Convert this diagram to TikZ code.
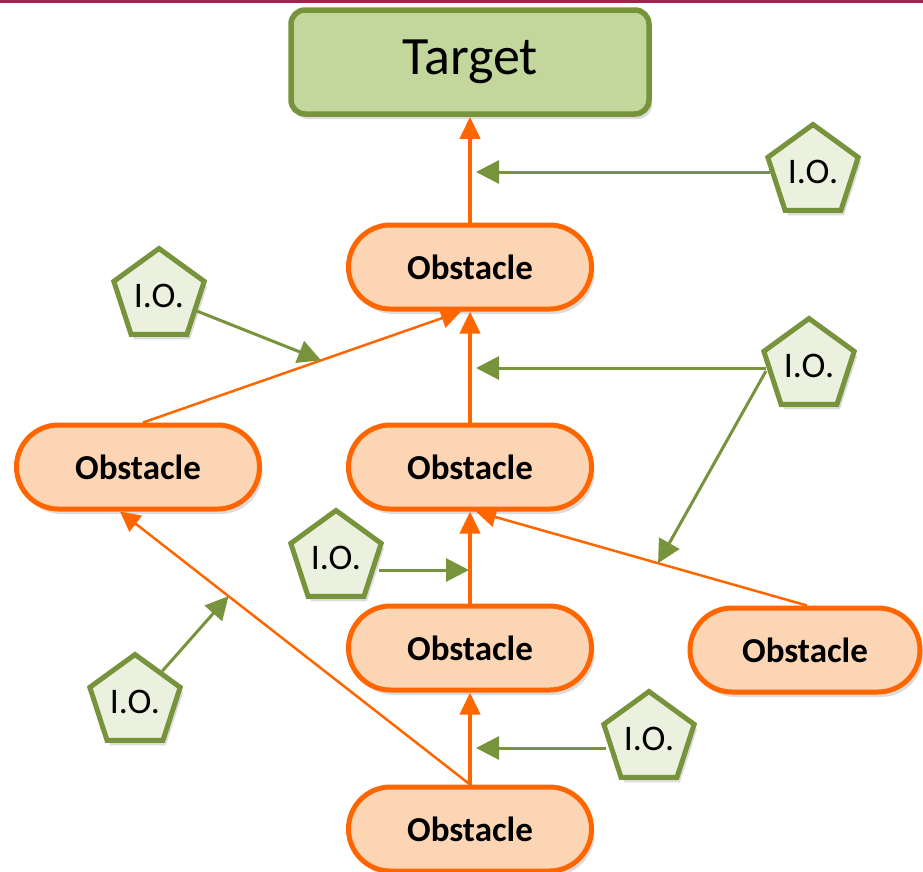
\documentclass[tikz,border=0pt]{standalone}
\usepackage{fontspec}
\setmainfont{Carlito}
\usetikzlibrary{shapes.geometric,arrows.meta,shadows,calc}
\definecolor{ogreen}{HTML}{77933C}
\definecolor{tfill}{HTML}{C3D69B}
\definecolor{pfill}{HTML}{EBF1DE}
\definecolor{oline}{HTML}{FF6600}
\definecolor{ofill}{HTML}{FCD5B5}
\definecolor{crim}{HTML}{A3234C}
\tikzset{
  shad/.style={drop shadow={opacity=0.28,shadow xshift=3pt,shadow yshift=-5pt}},
  targetbox/.style={draw=ogreen,fill=tfill,line width=5.5pt,rounded corners=14pt,
    minimum width=358pt,minimum height=104pt,inner sep=0pt,shad,
    font=\fontsize{54}{60}\selectfont},
  obst/.style={draw=oline,fill=ofill,line width=5pt,rounded corners=42pt,
    minimum width=243pt,minimum height=84pt,inner sep=0pt,shad,
    font=\fontsize{35}{40}\selectfont\bfseries},
  iobox/.style={regular polygon,regular polygon sides=5,draw=ogreen,fill=pfill,
    line width=5pt,minimum size=95pt,inner sep=0pt,shad,
    font=\fontsize{36}{40}\selectfont},
  omain/.style={draw=oline,line width=4pt,-{Triangle[length=22pt,width=20pt]}},
  othin/.style={draw=oline,line width=2.5pt,-{Triangle[length=20pt,width=20pt]}},
  garrow/.style={draw=ogreen,line width=3pt,-{Triangle[length=23pt,width=23pt]}},
}
\begin{document}
\begin{tikzpicture}[x=1pt,y=-1pt]
\useasboundingbox (0,0) rectangle (923,871);
\draw[crim,line width=3pt] (0,1.5) -- (923,1.5);

% nodes
\node[targetbox] (target) at (470,62) {Target};
\node[obst] (ob1) at (470,267) {Obstacle};
\node[obst] (ob2) at (138,467) {Obstacle};
\node[obst] (ob3) at (470,467) {Obstacle};
\node[obst] (ob4) at (470,648) {Obstacle};
\node[obst,minimum width=230pt] (ob5) at (805,650) {Obstacle};
\node[obst] (ob6) at (470,829) {Obstacle};

\node[iobox] (p1) at (813,172) {I.O.};
\node[iobox] (p2) at (159,296) {I.O.};
\node[iobox] (p3) at (809,366) {I.O.};
\node[iobox] (p4) at (336,558) {I.O.};
\node[iobox] (p5) at (135,702) {I.O.};
\node[iobox] (p6) at (649,739) {I.O.};

% orange connectors
\draw[omain] (ob1.north) -- (target.south);
\draw[omain] (ob3.north) -- (ob1.south);
\draw[omain] (ob4.north) -- (ob3.south);
\draw[omain] (ob6.north) -- (ob4.south);
\draw[othin] ([xshift=5pt]ob2.north) -- ([xshift=-9pt]ob1.south)
  coordinate[pos=0.56] (gb);
\draw[othin] ([xshift=2pt]ob5.north) -- ([xshift=6pt]ob3.south)
  coordinate[pos=0.45] (gd);
\draw[othin] (ob6.north) -- ([xshift=-18pt]ob2.south)
  coordinate[pos=0.69] (gf);

% green free ends
\coordinate (g1) at (476,172);
\coordinate (g3) at (476,368);
\coordinate (g4) at (469,570);
\coordinate (g6) at (476,748);

% green connectors
\draw[garrow] (p1.west |- g1) -- (g1);
\draw[garrow] (p3.west |- g3) -- (g3);
\draw[garrow] ([yshift=-5pt]p3.west) -- (gd);
\draw[garrow] (p2) -- (gb);
\draw[garrow] (p4.east |- g4) -- (g4);
\draw[garrow] (p5) -- (gf);
\draw[garrow] (p6.west |- g6) -- (g6);
\end{tikzpicture}
\end{document}
